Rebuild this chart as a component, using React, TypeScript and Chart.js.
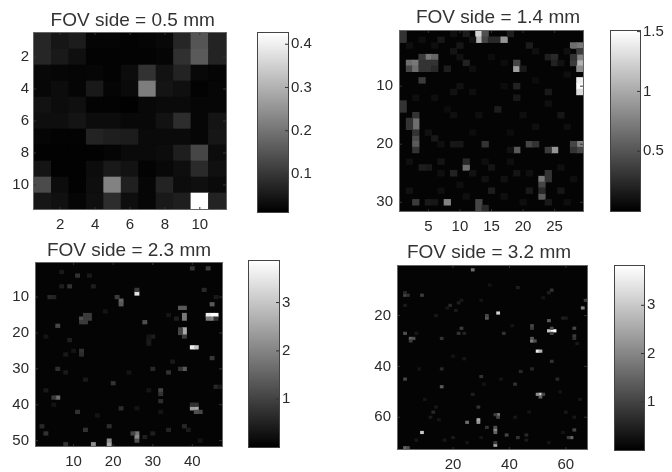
import React, { useEffect, useRef } from "react";
import { Chart, registerables } from "chart.js";

Chart.register(...registerables);

type Cell = [number, number, number];

// ---- data ----
const matrix1: number[][] = [
  [.074, .048, .057, .020, .020, .017, .020, .025, .074, .150, .069],
  [.074, .053, .036, .017, .017, .017, .017, .020, .090, .158, .069],
  [.025, .022, .020, .022, .017, .031, .093, .041, .069, .025, .020],
  [.023, .031, .020, .053, .020, .028, .215, .044, .036, .017, .022],
  [.041, .031, .036, .017, .017, .014, .025, .028, .028, .022, .022],
  [.035, .035, .044, .031, .031, .025, .025, .041, .085, .022, .044],
  [.020, .017, .017, .069, .061, .057, .028, .028, .028, .022, .048],
  [.015, .015, .015, .015, .020, .028, .028, .031, .061, .126, .031],
  [.044, .015, .015, .031, .053, .041, .017, .025, .035, .080, .038],
  [.134, .031, .015, .035, .223, .064, .022, .069, .031, .036, .028],
  [.048, .038, .020, .036, .085, .035, .022, .053, .061, .426, .069],
];

const cells2: Cell[] = [
  [13, 1, 1.24], [13, 2, 1.06], [14, 1, .47], [14, 2, .41], [15, 2, .24], [16, 2, .24], [17, 2, .88], [18, 1, .18],
  [1, 1, .3], [1, 2, .3], [5, 5, .71], [6, 5, .6], [4, 5, .35], [2, 6, .65], [3, 6, .71], [2, 7, .41], [3, 7, .65],
  [4, 6, .3], [5, 6, .3], [4, 7, .3], [5, 7, .3], [6, 6, .3], [6, 7, .24], [19, 7, .94], [19, 6, .41],
  [29, 6, 1.06], [29, 5, .77], [29, 3, .71], [28, 3, .65], [29, 4, .35], [28, 6, .35], [29, 7, .83], [28, 5, .3],
  [29, 10, 1.5], [29, 9, 1.41], [29, 11, 1.3], [3, 16, .65], [3, 17, .65], [2, 16, .3], [2, 17, .3], [3, 15, .3],
  [3, 19, .44], [3, 20, .53], [3, 18, .3], [3, 21, .3], [19, 21, .53], [25, 21, .88], [24, 21, .35], [21, 20, .41],
  [22, 20, .3], [29, 20, .77], [28, 20, .41], [29, 21, .41], [28, 21, .3], [11, 24, .65], [11, 23, .24], [14, 20, .3],
  [23, 26, .71], [24, 26, .3], [23, 27, .41], [23, 29, .53], [23, 28, .24], [8, 30, .77], [13, 30, .41], [13, 31, .41],
  [14, 31, .24], [3, 30, .35], [4, 9, .35], [1, 13, .3], [1, 14, .3], [7, 2, .14], [10, 3, .13], [11, 1, .16],
  [9, 4, .12], [11, 6, .2], [8, 7, .17], [21, 3, .16], [24, 5, .18], [25, 5, .24], [25, 6, .2], [19, 10, .2],
  [19, 12, .14], [24, 11, .15], [16, 14, .17], [26, 15, .13], [9, 11, .1], [10, 10, .1], [9, 15, .09], [6, 19, .14],
  [5, 18, .1], [9, 20, .13], [10, 20, .13], [9, 25, .2], [5, 24, .15], [4, 24, .17], [15, 24, .12], [15, 28, .17],
  [19, 25, .12], [21, 28, .15], [26, 28, .13], [24, 30, .15], [24, 25, .3], [5, 30, .15], [6, 30, .13], [18, 21, .1],
  [20, 7, .15], [12, 2, .1], [26, 6, .1], [22, 17, .09], [14, 26, .1], [17, 26, .1], [7, 23, .12], [2, 28, .1],
  [2, 3, .09], [4, 2, .08], [6, 3, .08], [9, 1, .09], [10, 5, .1], [12, 7, .08], [15, 5, .07], [17, 6, .07],
  [22, 4, .09], [27, 4, .09], [27, 8, .08], [22, 9, .07], [17, 10, .07], [12, 11, .08], [6, 12, .08], [3, 12, .08],
  [8, 14, .07], [13, 15, .08], [20, 15, .08], [24, 13, .09], [27, 17, .08], [18, 18, .07], [12, 18, .07], [7, 20, .09],
  [2, 23, .09], [7, 25, .09], [12, 25, .1], [14, 23, .08], [18, 23, .08], [21, 25, .09], [26, 24, .09], [28, 26, .08],
  [17, 29, .09], [11, 29, .09], [7, 28, .08], [20, 30, .08], [27, 30, .08], [10, 27, .08],
];

const cells3: Cell[] = [
  [45, 15, 3.85], [46, 15, 3.85], [44, 15, 3.6], [45, 16, 1.95], [44, 16, 1.8], [46, 16, .75], [45, 12, 1.35],
  [26, 9, 3.45], [26, 8, .9], [22, 11, 1.5], [22, 12, 1.35], [21, 10, .9], [38, 15, 1.8], [38, 16, 1.8], [37, 13, 1.35],
  [38, 13, 1.35], [38, 19, 2.55], [38, 20, 2.55], [38, 21, .9], [37, 19, 1.05], [37, 20, 1.05], [40, 24, 3.6],
  [41, 24, 3.0], [38, 30, 1.35], [37, 30, .75], [41, 41, 2.55], [40, 41, 2.4], [42, 42, 1.05], [41, 42, 1.2],
  [40, 40, .75], [41, 40, .75], [6, 38, 1.65], [5, 38, .9], [26, 48, 1.8], [26, 49, 2.1], [25, 48, 1.05], [26, 50, 1.2],
  [19, 51, 2.55], [19, 50, 2.1], [15, 51, 2.1], [12, 16, 1.2], [12, 17, .9], [13, 15, .9], [13, 16, .9], [13, 17, .9],
  [14, 15, .9], [14, 16, .9], [28, 17, 1.2], [6, 18, 1.05], [11, 4, .75], [9, 7, .75], [7, 7, .45], [4, 10, .6],
  [5, 10, .53], [12, 25, .75], [12, 26, .68], [32, 36, 1.05], [32, 37, .75], [32, 39, .68], [34, 31, .75], [30, 30, .6],
  [45, 27, .83], [11, 42, .75], [20, 34, .75], [6, 30, .68], [3, 48, .75], [2, 46, .6], [22, 41, .68], [38, 46, .6],
  [34, 47, .53], [44, 2, .9], [40, 2, .75], [43, 8, .6], [46, 35, .6], [8, 51, .75], [13, 47, .75], [19, 46, .68],
  [7, 3, .38], [14, 4, .38], [15, 7, .45], [29, 22, .38], [29, 23, .38], [9, 22, .45], [8, 26, .38], [18, 14, .3],
  [24, 31, .3], [13, 33, .38], [3, 36, .38], [8, 31, .38], [5, 40, .3], [26, 41, .3], [29, 36, .3], [35, 28, .38],
  [32, 42, .3], [47, 35, .38], [46, 10, .38], [3, 21, .3], [10, 25, .3], [16, 43, .3], [28, 49, .45], [30, 48, .45],
  [39, 47, .4], [42, 50, .3], [36, 16, .45], [34, 15, .3], [30, 21, .45], [29, 21, .3],
];

const cells4: Cell[] = [
  [55, 26, 3.85], [56, 26, 3.85], [54, 26, 3.0], [55, 25, 1.2], [55, 27, 1.05], [36, 19, 3.15], [32, 21, 1.35],
  [32, 20, 1.05], [50, 34, 3.6], [51, 34, 2.7], [48, 30, 1.95], [48, 29, 1.35], [49, 30, 1.2], [48, 24, 1.05],
  [48, 25, .9], [54, 22, 1.35], [63, 28, .9], [63, 29, .75], [63, 25, 1.05], [66, 17, 1.95], [67, 14, .9],
  [51, 51, 3.3], [50, 51, 2.1], [51, 52, 1.5], [52, 51, 1.05], [36, 59, 1.8], [35, 59, .9], [36, 60, 1.05],
  [29, 61, 2.55], [29, 62, 2.25], [25, 62, 1.65], [9, 66, 3.0], [35, 65, 2.1], [35, 64, 1.2], [35, 66, 1.5],
  [35, 71, 2.55], [35, 70, .9], [3, 72, 1.5], [4, 72, 1.2], [27, 2, 1.65], [3, 12, 1.05], [4, 12, .75], [3, 11, .6],
  [5, 29, 1.5], [6, 29, 1.2], [5, 30, .9], [3, 27, 1.2], [16, 48, 1.35], [3, 45, 1.05], [23, 25, .9], [22, 27, .75],
  [16, 29, .75], [38, 27, .75], [62, 68, 1.5], [61, 68, .9], [63, 65, 1.05], [39, 67, 1.05], [43, 68, .75], [46, 67, .6],
  [55, 10, .75], [54, 11, .45], [55, 38, .75], [48, 41, .6], [44, 42, .6], [57, 45, .6], [42, 47, .75], [29, 56, .75],
  [13, 58, .6], [19, 16, .6], [9, 12, .9], [32, 64, .75], [30, 44, .75], [16, 41, .6],
  [24, 27, .5], [21, 18, .4], [23, 14, .35], [14, 20, .35], [7, 27, .35], [8, 41, .3], [24, 37, .35], [20, 36, .3],
  [31, 47, .3], [27, 51, .45], [14, 56, .35], [12, 60, .4], [15, 61, .3], [7, 69, .35], [17, 69, .35], [20, 68, .4],
  [25, 70, .3], [30, 68, .3], [42, 60, .35], [60, 58, .35], [63, 60, .35], [65, 53, .3], [59, 21, .45], [60, 21, .4],
  [52, 13, .3], [43, 9, .45], [33, 8, .3], [30, 14, .3], [22, 15, .45], [18, 17, .35], [3, 16, .4], [64, 31, .35],
  [58, 50, .3], [41, 24, .3], [46, 69, .4], [54, 70, .3], [59, 66, .3], [47, 58, .3], [37, 45, .3], [10, 53, .3],
];

const xTicks1 = [2, 4, 6, 8, 10];
const yTicks1 = [2, 4, 6, 8, 10];
const xTicks2 = [5, 10, 15, 20, 25];
const yTicks2 = [10, 20, 30];
const xTicks3 = [10, 20, 30, 40];
const yTicks3 = [10, 20, 30, 40, 50];
const xTicks4 = [20, 40, 60];
const yTicks4 = [20, 40, 60];
const barTicks1 = [0.1, 0.2, 0.3, 0.4];
const barTicks2 = [0.5, 1, 1.5];
const barTicks3 = [1, 2, 3];
const barTicks4 = [1, 2, 3];

const FONT = "'Liberation Sans', Arial, sans-serif";
const TITLE_SIZE = 19;
const TICK_SIZE = 15;

const axisPlugin = {
  id: "matlabBox",
  afterLayout(chart: any, _a: any, opts: any) {
    if (opts.titleCenter !== undefined && chart.titleBlock) {
      chart.titleBlock.left = 0;
      chart.titleBlock.right = 2 * opts.titleCenter;
    }
  },
  beforeDatasetsDraw(chart: any, _a: any, opts: any) {
    if (!opts.background) return;
    const { left, top, width, height } = chart.chartArea;
    chart.ctx.fillStyle = opts.background;
    chart.ctx.fillRect(left, top, width, height);
  },
  afterDraw(chart: any, _a: any, opts: any) {
    const { left, right, top, bottom } = chart.chartArea;
    const ctx = chart.ctx;
    ctx.save();
    ctx.strokeStyle = opts.tickColor;
    ctx.lineWidth = 1;
    ctx.beginPath();
    if (chart.scales.x.options.display) {
      for (const t of chart.scales.x.ticks) {
        const p = chart.scales.x.getPixelForValue(t.value);
        ctx.moveTo(p, bottom); ctx.lineTo(p, bottom - 2);
        ctx.moveTo(p, top); ctx.lineTo(p, top + 2);
      }
    }
    for (const t of chart.scales.y.ticks) {
      const p = chart.scales.y.getPixelForValue(t.value);
      ctx.moveTo(right, p); ctx.lineTo(right - 3, p);
      if (opts.background) { ctx.moveTo(left, p); ctx.lineTo(left + 2, p); }
    }
    ctx.stroke();
    ctx.strokeStyle = opts.boxColor;
    ctx.strokeRect(left - 0.5, top - 0.5, right - left + 1, bottom - top + 1);
    ctx.restore();
  },
};

type Rect = { l: number; t: number; r: number; b: number };
type Frame = { x: number; y: number; w: number; h: number };

function fixPadding(s: any) {
  s.paddingTop = 0; s.paddingBottom = 0; s.paddingLeft = 0; s.paddingRight = 0;
}

function Heatmap(props: {
  frame: Frame; plot: Rect; title: string; titleCenter: number; titleGap: number; cols: number; rows: number;
  cMin: number; cMax: number; cells: Cell[]; xTicks: number[]; yTicks: number[]; yPad: number;
}) {
  const ref = useRef<HTMLCanvasElement>(null);
  const { frame, plot, title, titleCenter, titleGap, cols, rows, cMin, cMax, cells, xTicks, yTicks, yPad } = props;
  useEffect(() => {
    const lineH = TITLE_SIZE * 1.2;
    const tone = (v: number) => {
      const g = Math.round(255 * Math.min(1, Math.max(0, (v - cMin) / (cMax - cMin))));
      return `rgb(${g},${g},${g})`;
    };
    const chart = new Chart(ref.current!, {
      type: "bar",
      plugins: [axisPlugin],
      data: {
        datasets: [{
          data: cells.map(([c, r]) => ({ x: c, y: [r - 0.5, r + 0.5] })) as any,
          backgroundColor: cells.map((c) => tone(c[2])),
          barThickness: (plot.r - plot.l) / cols + 0.3,
          borderWidth: 0,
        }],
      },
      options: {
        animation: false,
        responsive: false,
        events: [],
        layout: {
          padding: {
            top: plot.t - frame.y - lineH - titleGap,
            right: frame.x + frame.w - plot.r,
            left: 0,
            bottom: 0,
          },
        },
        plugins: {
          legend: { display: false },
          tooltip: { enabled: false },
          title: {
            display: true, text: title, color: "#333",
            font: { family: FONT, size: TITLE_SIZE, weight: "normal", lineHeight: 1.2 },
            padding: { top: 0, bottom: titleGap },
          },
          matlabBox: { background: "#040404", tickColor: "#333", boxColor: "#666", titleCenter: titleCenter - frame.x },
        } as any,
        scales: {
          x: {
            type: "linear", min: 0.5, max: cols + 0.5, offset: false,
            grid: { display: false, drawTicks: false }, border: { display: false },
            afterBuildTicks: (s: any) => { s.ticks = xTicks.map((value) => ({ value })); },
            afterFit: (s: any) => { s.height = frame.y + frame.h - plot.b; fixPadding(s); },
            ticks: {
              autoSkip: false, maxRotation: 0, minRotation: 0, padding: 7, color: "#2a2a2a",
              font: { family: FONT, size: TICK_SIZE }, callback: (v: any) => String(v),
            },
          },
          y: {
            type: "linear", min: 0.5, max: rows + 0.5, reverse: true, offset: false,
            grid: { display: false, drawTicks: false }, border: { display: false },
            afterBuildTicks: (s: any) => { s.ticks = yTicks.map((value) => ({ value })); },
            afterFit: (s: any) => { s.width = plot.l - frame.x; fixPadding(s); },
            ticks: {
              autoSkip: false, padding: yPad, color: "#2a2a2a",
              font: { family: FONT, size: TICK_SIZE }, callback: (v: any) => String(v),
            },
          },
        },
      } as any,
    });
    return () => chart.destroy();
  }, []);
  return (
    <canvas ref={ref} width={frame.w} height={frame.h}
      style={{ position: "absolute", left: frame.x, top: frame.y, width: frame.w, height: frame.h, display: "block" }} />
  );
}

function ColorBar(props: { plot: Rect; min: number; max: number; ticks: number[] }) {
  const ref = useRef<HTMLCanvasElement>(null);
  const { plot, min, max, ticks } = props;
  const frame = { x: plot.l - 2, y: plot.t - 12, w: plot.r - plot.l + 34, h: plot.b - plot.t + 24 };
  useEffect(() => {
    const chart = new Chart(ref.current!, {
      type: "bar",
      plugins: [axisPlugin],
      data: {
        labels: ["c"],
        datasets: [{
          data: [[min, max]],
          barPercentage: 1,
          categoryPercentage: 1,
          borderWidth: 0,
          backgroundColor: (ctx: any) => {
            const a = ctx.chart.chartArea;
            if (!a) return "#888";
            const g = ctx.chart.ctx.createLinearGradient(0, a.bottom, 0, a.top);
            g.addColorStop(0, "#000");
            g.addColorStop(1, "#fff");
            return g;
          },
        }],
      },
      options: {
        animation: false,
        responsive: false,
        events: [],
        layout: { padding: { left: 2, top: 12, bottom: 12, right: 0 } },
        plugins: {
          legend: { display: false },
          tooltip: { enabled: false },
          matlabBox: { tickColor: "#333", boxColor: "#444" },
        } as any,
        scales: {
          x: { display: false },
          y: {
            type: "linear", position: "right", min, max,
            grid: { display: false, drawTicks: false }, border: { display: false },
            afterBuildTicks: (s: any) => { s.ticks = ticks.map((value) => ({ value })); },
            afterFit: (s: any) => { s.width = 32; fixPadding(s); },
            ticks: {
              autoSkip: false, padding: 3, color: "#2a2a2a",
              font: { family: FONT, size: TICK_SIZE }, callback: (v: any) => String(v),
            },
          },
        },
      } as any,
    });
    return () => chart.destroy();
  }, []);
  return (
    <canvas ref={ref} width={frame.w} height={frame.h}
      style={{ position: "absolute", left: frame.x, top: frame.y, width: frame.w, height: frame.h, display: "block" }} />
  );
}

const cells1: Cell[] = matrix1.flatMap((row, r) => row.map((v, c) => [c + 1, r + 1, v] as Cell));

export default function App() {
  return (
    <div style={{ position: "absolute", left: 0, top: 0, width: 672, height: 472, background: "#fff", overflow: "hidden", filter: "blur(0.6px)" }}>
      <Heatmap frame={{ x: 0, y: 0, w: 266, h: 236 }} plot={{ l: 34, t: 33, r: 226, b: 209 }} title="FOV side = 0.5 mm" titleCenter={132.7} titleGap={1}
        cols={11} rows={11} cMin={0.012} cMax={0.426} cells={cells1} xTicks={xTicks1} yTicks={yTicks1} yPad={5} />
      <ColorBar plot={{ l: 258, t: 33, r: 288, b: 212 }} min={0.012} max={0.426} ticks={barTicks1} />

      <Heatmap frame={{ x: 360, y: 0, w: 276, h: 236 }} plot={{ l: 400, t: 31, r: 583, b: 211 }} title="FOV side = 1.4 mm" titleCenter={498} titleGap={2}
        cols={29} rows={31} cMin={0} cMax={1.505} cells={cells2} xTicks={xTicks2} yTicks={yTicks2} yPad={7} />
      <ColorBar plot={{ l: 611, t: 31, r: 640, b: 211 }} min={0} max={1.505} ticks={barTicks2} />

      <Heatmap frame={{ x: 0, y: 236, w: 258, h: 236 }} plot={{ l: 36, t: 263, r: 222, b: 446 }} title="FOV side = 2.3 mm" titleCenter={129} titleGap={1}
        cols={47} rows={51} cMin={0} cMax={3.86} cells={cells3} xTicks={xTicks3} yTicks={yTicks3} yPad={7} />
      <ColorBar plot={{ l: 249, t: 261, r: 279, b: 447 }} min={0.01} max={3.86} ticks={barTicks3} />

      <Heatmap frame={{ x: 350, y: 236, w: 278, h: 236 }} plot={{ l: 398, t: 266, r: 587, b: 449 }} title="FOV side = 3.2 mm" titleCenter={489} titleGap={2}
        cols={67} rows={72} cMin={0} cMax={3.85} cells={cells4} xTicks={xTicks4} yTicks={yTicks4} yPad={7} />
      <ColorBar plot={{ l: 615, t: 266, r: 644, b: 450 }} min={0} max={3.815} ticks={barTicks4} />
    </div>
  );
}
